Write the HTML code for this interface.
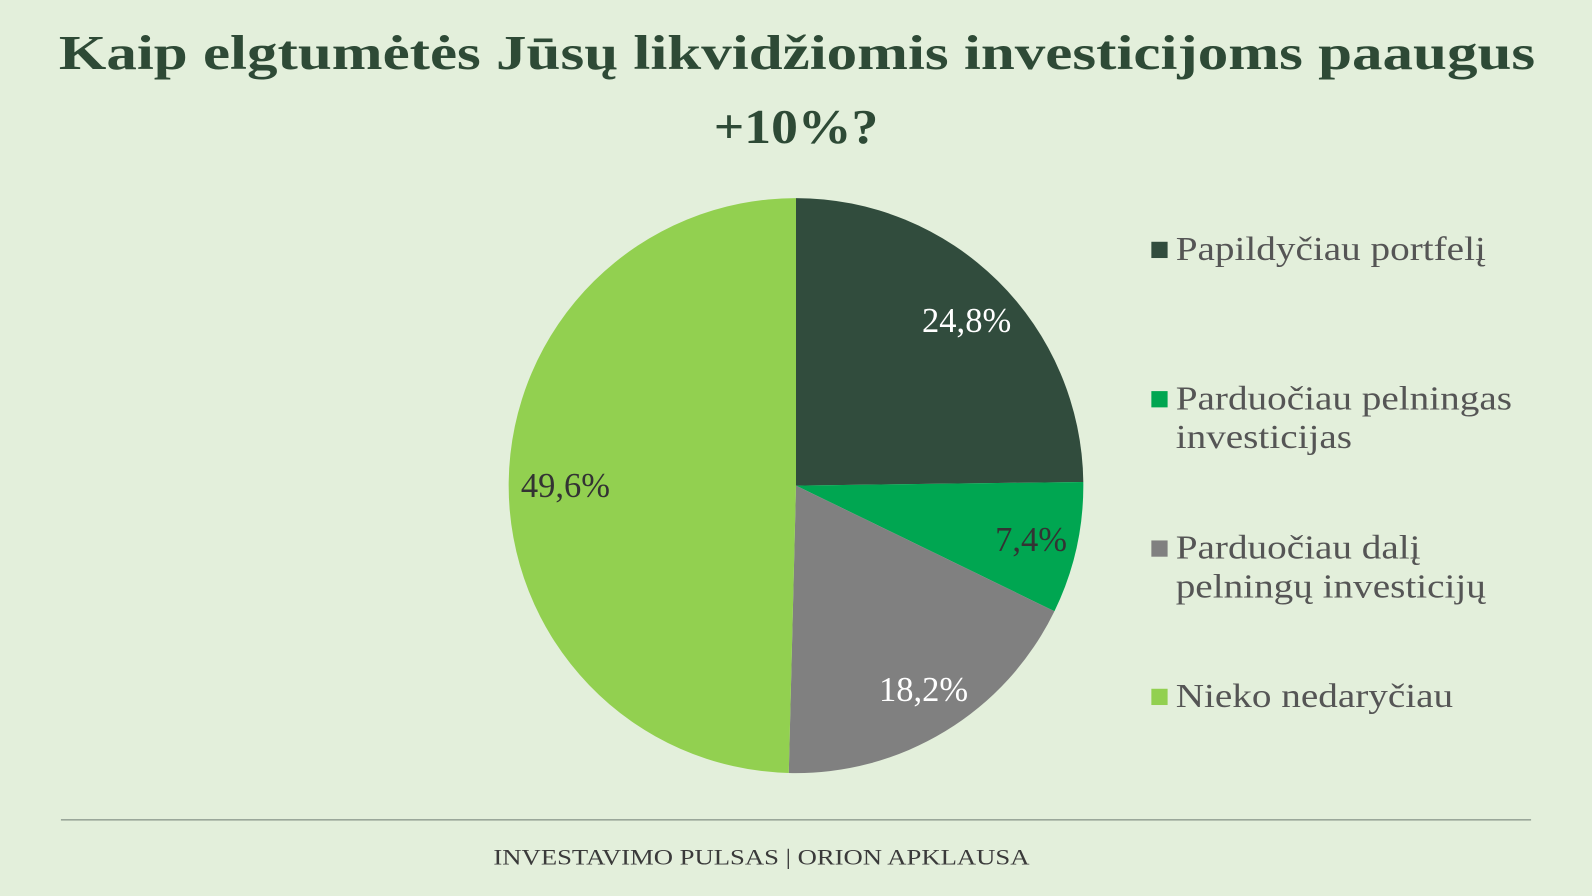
<!DOCTYPE html>
<html><head><meta charset="utf-8"><style>
html,body{margin:0;padding:0;background:#e3efdb;}
svg{display:block;}
text{font-family:"Liberation Serif",serif;}
</style></head><body>
<svg id="chart" width="1592" height="896" viewBox="0 0 1568 882" preserveAspectRatio="none" xmlns="http://www.w3.org/2000/svg">
<rect width="1568" height="882" fill="#e3efdb"/>
<text x="58" y="68" textLength="1454" lengthAdjust="spacingAndGlyphs" font-size="48" font-weight="bold" fill="#2e4a36">Kaip elgtumėtės Jūsų likvidžiomis investicijoms paaugus</text>
<text x="703" y="141" textLength="162" lengthAdjust="spacingAndGlyphs" font-size="48" font-weight="bold" fill="#2e4a36">+10%?</text>
<g id="slices"></g>
<g id="labels"></g>
<g id="legend"></g>
<line x1="60" y1="807" x2="1508" y2="807" stroke="#9aa79a" stroke-width="1.5"/>
<text x="486" y="851" textLength="528" lengthAdjust="spacingAndGlyphs" font-size="22" fill="#3a3a3a">INVESTAVIMO PULSAS | ORION APKLAUSA</text>
</svg>
<script>
const categories = ["Papildyčiau portfelį", "Parduočiau pelningas\ninvesticijas", "Parduočiau dalį\npelningų investicijų", "Nieko nedaryčiau"];
const values = [24.8, 7.4, 18.2, 49.6];
const valueLabels = ["24,8%", "7,4%", "18,2%", "49,6%"];
const colors = ["#314c3d", "#00a651", "#808080", "#92d050"];
const labelColors = ["#ffffff", "#333333", "#ffffff", "#333333"];

const NS = "http://www.w3.org/2000/svg";
const cx = 784, cy = 478, r = 283;
const total = values.reduce((a, b) => a + b, 0);
function pt(frac, rad) {
  const a = frac * 2 * Math.PI - Math.PI / 2;
  return [cx + rad * Math.cos(a), cy + rad * Math.sin(a)];
}
const gS = document.getElementById('slices'), gL = document.getElementById('labels'), gG = document.getElementById('legend');
let acc = 0;
values.forEach((v, i) => {
  const f0 = acc / total, f1 = (acc + v) / total;
  acc += v;
  const p0 = pt(f0, r), p1 = pt(f1, r);
  const large = (f1 - f0) > 0.5 ? 1 : 0;
  const path = document.createElementNS(NS, 'path');
  path.setAttribute('d', `M${cx},${cy} L${p0[0]},${p0[1]} A${r},${r} 0 ${large} 1 ${p1[0]},${p1[1]} Z`);
  path.setAttribute('fill', colors[i]);
  
  
  gS.appendChild(path);
  const lp = pt((f0 + f1) / 2, r * 0.82);
  const t = document.createElementNS(NS, 'text');
  t.setAttribute('x', lp[0] + 5); t.setAttribute('y', lp[1] + 14);
  t.setAttribute('text-anchor', 'middle');
  t.setAttribute('font-size', '34');
  t.setAttribute('fill', labelColors[i]);
  t.textContent = valueLabels[i];
  
  
  gL.appendChild(t);
});
const legendY = [246, 393, 540, 686];
categories.forEach((c, i) => {
  const sq = document.createElementNS(NS, 'rect');
  sq.setAttribute('x', 1134); sq.setAttribute('y', legendY[i] - 8);
  sq.setAttribute('width', 16); sq.setAttribute('height', 16);
  sq.setAttribute('fill', colors[i]);
  
  
  gG.appendChild(sq);
  c.split('\n').forEach((line, j) => {
    const t = document.createElementNS(NS, 'text');
    t.setAttribute('x', 1158); t.setAttribute('y', legendY[i] + 10 + j * 38);
    t.setAttribute('font-size', '33');
    t.setAttribute('fill', '#555555');
    t.textContent = line;
    
    
    gG.appendChild(t);
    const w = t.getComputedTextLength();
    t.setAttribute('textLength', w * 1.17);
    t.setAttribute('lengthAdjust', 'spacingAndGlyphs');
  });
});
</script>
</body></html>
